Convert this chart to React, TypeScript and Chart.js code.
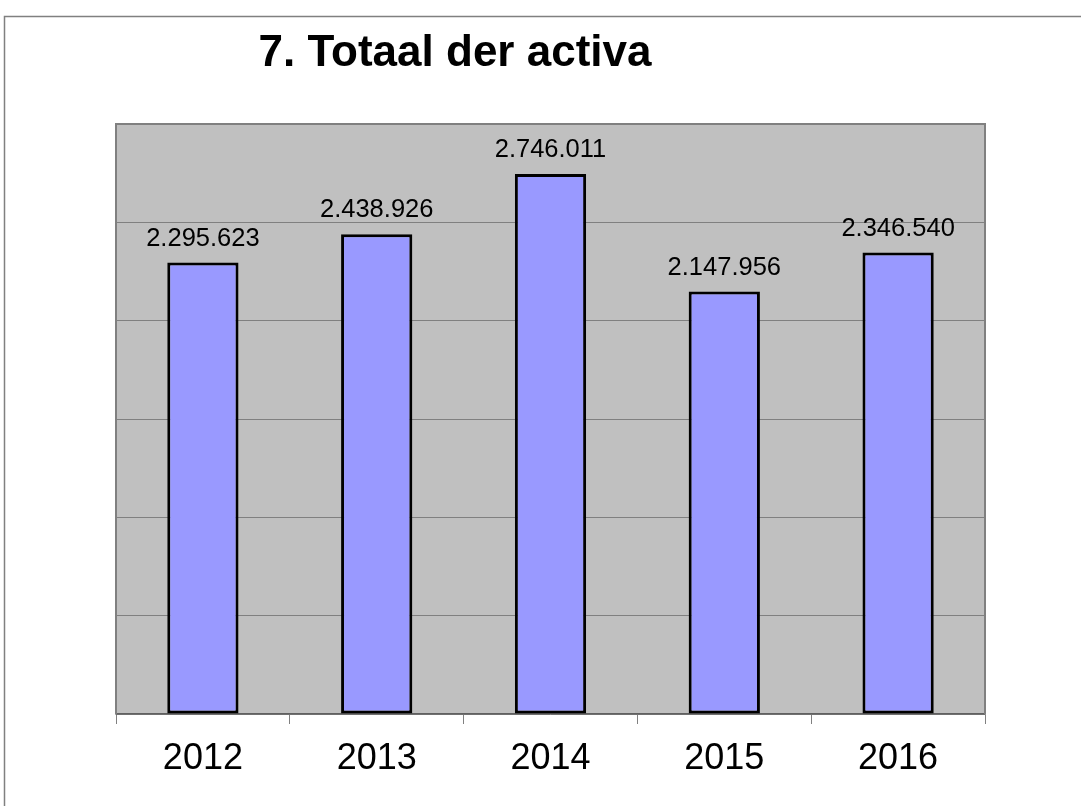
import React, { useEffect, useRef } from "react";
import { Chart, registerables } from "chart.js";

Chart.register(...registerables);

const categories = ["2012", "2013", "2014", "2015", "2016"];
const values = [2295623, 2438926, 2746011, 2147956, 2346540];
const yTicks = [0, 500000, 1000000, 1500000, 2000000, 2500000, 3000000];
const titleText = "7. Totaal der activa";

const FONT = "'Liberation Sans', Arial, Helvetica, sans-serif";

const fmt = (v: number) => String(v).replace(/\B(?=(\d{3})+(?!\d))/g, ".");

const decorPlugin = {
  id: "decor",
  beforeDraw(chart: any) {
    const { ctx, chartArea: a, width, height } = chart;
    ctx.save();
    ctx.fillStyle = "#ffffff";
    ctx.fillRect(0, 0, width, height);
    ctx.strokeStyle = "#808080";
    ctx.lineWidth = 1.5;
    ctx.beginPath();
    ctx.moveTo(4.5, height);
    ctx.lineTo(4.5, 16.5);
    ctx.lineTo(width, 16.5);
    ctx.stroke();
    ctx.fillStyle = "#c0c0c0";
    ctx.fillRect(a.left, a.top, a.right - a.left, a.bottom - a.top);
    ctx.fillStyle = "#000000";
    ctx.font = `bold 44px ${FONT}`;
    ctx.textAlign = "center";
    ctx.textBaseline = "alphabetic";
    ctx.fillText(titleText, 455, 66);
    ctx.restore();
  },
  beforeDatasetsDraw(chart: any) {
    const { ctx, chartArea: a } = chart;
    ctx.save();
    ctx.strokeStyle = "#808080";
    ctx.lineWidth = 2;
    ctx.beginPath();
    ctx.moveTo(a.left, a.bottom);
    ctx.lineTo(a.left, a.top);
    ctx.lineTo(a.right, a.top);
    ctx.lineTo(a.right, a.bottom);
    ctx.stroke();
    ctx.restore();
  },
  afterDatasetsDraw(chart: any) {
    const { ctx } = chart;
    const meta = chart.getDatasetMeta(0);
    ctx.save();
    ctx.fillStyle = "#000000";
    ctx.font = `25.5px ${FONT}`;
    ctx.textAlign = "center";
    ctx.textBaseline = "alphabetic";
    meta.data.forEach((bar: any, i: number) => {
      ctx.fillText(fmt(values[i]), bar.x, bar.y - 17);
    });
    ctx.restore();
  },
};

export default function App() {
  const ref = useRef<HTMLCanvasElement>(null);
  useEffect(() => {
    if (!ref.current) return;
    const chart = new Chart(ref.current, {
      type: "bar",
      data: {
        labels: categories,
        datasets: [
          {
            data: values,
            backgroundColor: "#9999ff",
            borderColor: "#000000",
            borderWidth: 3,
            borderSkipped: false,
            categoryPercentage: 1,
            barPercentage: 0.41,
          },
        ],
      },
      options: {
        animation: false,
        responsive: false,
        devicePixelRatio: 1,
        layout: { padding: { left: 116, right: 96, top: 124, bottom: 0 } },
        plugins: {
          legend: { display: false },
          tooltip: { enabled: false },
          title: { display: false },
        },
        scales: {
          x: {
            offset: true,
            afterFit: (scale: any) => {
              scale.height = 92;
            },
            grid: {
              offset: true,
              drawOnChartArea: false,
              drawTicks: true,
              tickLength: 10,
              color: "#808080",
              lineWidth: 1,
            },
            border: { display: true, color: "#606060", width: 1.5 },
            ticks: {
              color: "#000000",
              font: { family: FONT, size: 36 },
              padding: 13,
              maxRotation: 0,
            },
          },
          y: {
            min: yTicks[0],
            max: yTicks[yTicks.length - 1],
            afterBuildTicks: (scale: any) => {
              scale.ticks = yTicks.map((v) => ({ value: v }));
            },
            grid: { color: "#808080", lineWidth: 1, drawTicks: false },
            border: { display: false },
            ticks: { display: false },
          },
        },
      },
      plugins: [decorPlugin],
    });
    return () => chart.destroy();
  }, []);
  return (
    <div style={{ position: "absolute", left: 0, top: 0, width: 1081, height: 806, background: "#fff" }}>
      <canvas ref={ref} width={1081} height={806} style={{ display: "block" }} />
    </div>
  );
}
